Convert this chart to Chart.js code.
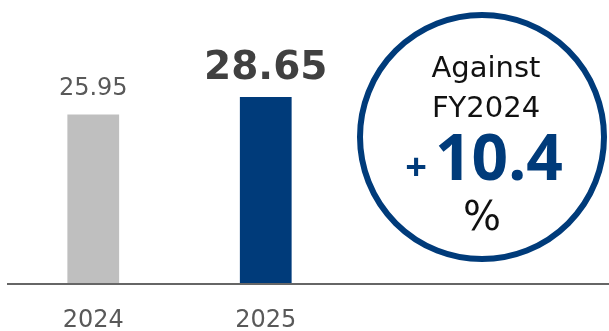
<!DOCTYPE html>
<html>
<head>
<meta charset="utf-8">
<script src="https://cdn.jsdelivr.net/npm/chart.js@4.4.1/dist/chart.umd.min.js"></script>
<style>
  html, body { margin: 0; padding: 0; background: #fff; }
  #wrap { width: 609px; height: 331px; }
</style>
</head>
<body>
<div id="wrap"><canvas id="chart"></canvas></div>
<script>
// data
var years = ['2024', '2025'];
var values = [25.95, 28.65];
var valueLabels = ['25.95', '28.65'];
var growthLines = ['Against', 'FY2024'];
var growthValue = '10.4';

var barColors = ['#BFBFBF', '#003B7A'];

// value labels on top of the bars
var valueLabelPlugin = {
  id: 'valueLabels',
  afterDatasetsDraw: function(chart) {
    var ctx = chart.ctx;
    var meta = chart.getDatasetMeta(0);
    ctx.save();
    ctx.textAlign = 'center';
    ctx.textBaseline = 'alphabetic';
    meta.data.forEach(function(bar, i) {
      if (i === 1) {
        ctx.font = 'bold 39px "DejaVu Sans"';
        ctx.fillStyle = '#404040';
        ctx.fillText(valueLabels[i], bar.x, bar.y - 18);
      } else {
        ctx.font = '24px "DejaVu Sans"';
        ctx.fillStyle = '#595959';
        ctx.fillText(valueLabels[i], bar.x, bar.y - 20);
      }
    });
    ctx.restore();
  }
};

// baseline across the whole width + the circle badge
var extrasPlugin = {
  id: 'extras',
  afterDraw: function(chart) {
    var ctx = chart.ctx;
    var y0 = chart.scales.y.getPixelForValue(0);
    ctx.save();
    ctx.strokeStyle = '#666666';
    ctx.lineWidth = 2;
    ctx.beginPath();
    ctx.moveTo(7, y0);
    ctx.lineTo(chart.width, y0);
    ctx.stroke();

    var cx = 482, cy = 137;
    ctx.strokeStyle = '#003B7A';
    ctx.lineWidth = 6;
    ctx.beginPath();
    ctx.arc(cx, cy, 122, 0, Math.PI * 2);
    ctx.stroke();

    ctx.textAlign = 'center';
    ctx.textBaseline = 'alphabetic';
    ctx.fillStyle = '#111111';
    ctx.font = '29px "DejaVu Sans"';
    ctx.fillText(growthLines[0], 486, 77);
    ctx.fillText(growthLines[1], 486, 117);

    ctx.fillStyle = '#003B7A';
    ctx.font = 'bold 64px "Noto Sans"';
    ctx.textAlign = 'left';
    ctx.fillText(growthValue, 435, 180);
    ctx.font = 'bold 38px "Noto Sans"';
    ctx.textAlign = 'center';
    ctx.fillText('+', 416, 180);

    ctx.fillStyle = '#111111';
    ctx.font = '40px "DejaVu Sans"';
    ctx.fillText('%', 482, 230);
    ctx.restore();
  }
};

new Chart(document.getElementById('chart'), {
  type: 'bar',
  data: {
    labels: years,
    datasets: [{
      data: values,
      backgroundColor: barColors,
      barPercentage: 0.6,
      categoryPercentage: 0.5
    }]
  },
  options: {
    responsive: true,
    maintainAspectRatio: false,
    animation: false,
    layout: { padding: { left: 7, right: 257, top: 0, bottom: -27 } },
    plugins: {
      legend: { display: false },
      tooltip: { enabled: false }
    },
    scales: {
      x: {
        grid: { display: false, drawTicks: false },
        border: { display: false },
        ticks: {
          color: '#595959',
          font: { family: 'DejaVu Sans', size: 24, lineHeight: 1 },
          padding: 25
        }
      },
      y: {
        display: false,
        min: 0,
        max: 43.5
      }
    }
  },
  plugins: [valueLabelPlugin, extrasPlugin]
});
</script>
</body>
</html>
